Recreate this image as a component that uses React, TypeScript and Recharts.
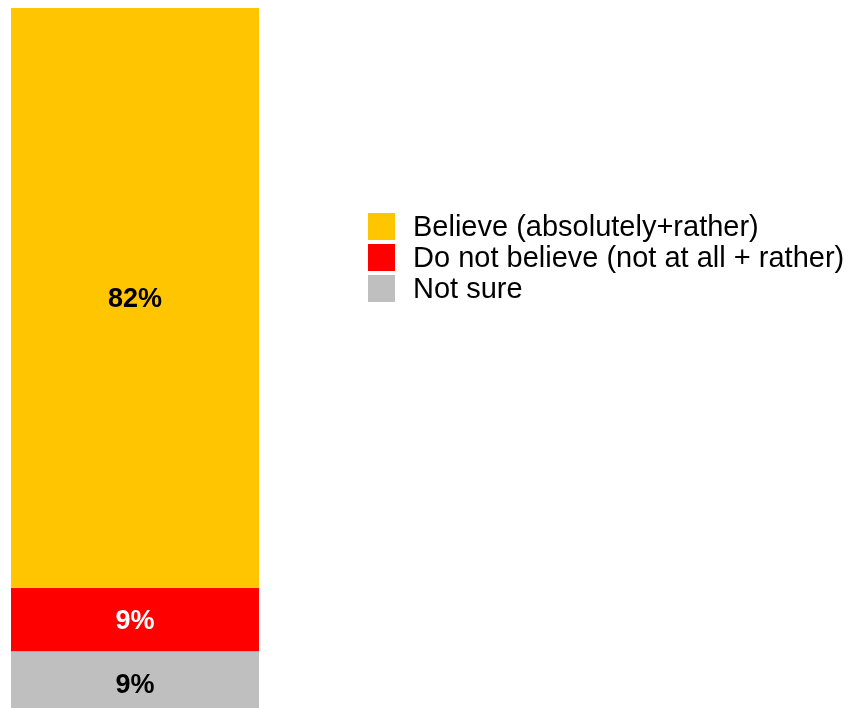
import { Bar, BarChart, LabelList, Legend, XAxis, YAxis } from 'recharts'

const categories = ['All respondents']
const believe = [82]
const notBelieve = [9]
const notSure = [9]

const seriesNames = ['Believe (absolutely+rather)', 'Do not believe (not at all + rather)', 'Not sure']
const seriesColors = ['#FFC600', '#FF0000', '#BFBFBF']

const data = categories.map((name, i) => ({
  name,
  believe: believe[i],
  notBelieve: notBelieve[i],
  notSure: notSure[i],
}))

const FONT = '"Liberation Sans", Arial, Helvetica, sans-serif'

const pct = (v: any) => `${v}%`

const LegendBox = () => (
  <div style={{ fontFamily: FONT }}>
    {seriesNames.map((label, i) => (
      <div
        key={label}
        style={{ display: 'flex', alignItems: 'center', height: 31, whiteSpace: 'nowrap' }}
      >
        <span
          style={{
            display: 'inline-block',
            width: 27,
            height: 27,
            background: seriesColors[i],
            marginRight: 18,
            flexShrink: 0,
          }}
        />
        <span style={{ fontSize: 29, color: '#000', lineHeight: '31px' }}>{label}</span>
      </div>
    ))}
  </div>
)

const App = () => {
  return (
    <div style={{ position: 'fixed', top: 8, left: 8, fontFamily: FONT }}>
      <BarChart
        width={846}
        height={707}
        data={data}
        margin={{ top: 0, right: 595, left: 3, bottom: 0 }}
        barCategoryGap={0}
      >
        <XAxis dataKey="name" hide />
        <YAxis hide domain={[0, 100]} />
        <Legend
          layout="horizontal"
          verticalAlign="middle"
          align="center"
          content={<LegendBox />}
          wrapperStyle={{ left: 360, top: 203, width: 486 }}
        />
        <Bar dataKey="notSure" stackId="a" fill={seriesColors[2]} isAnimationActive={false}>
          <LabelList
            dataKey="notSure"
            position="center"
            formatter={pct}
            fill="#000"
            style={{ fontSize: 27, fontWeight: 'bold', fontFamily: FONT }}
          />
        </Bar>
        <Bar dataKey="notBelieve" stackId="a" fill={seriesColors[1]} isAnimationActive={false}>
          <LabelList
            dataKey="notBelieve"
            position="center"
            formatter={pct}
            fill="#fff"
            style={{ fontSize: 27, fontWeight: 'bold', fontFamily: FONT }}
          />
        </Bar>
        <Bar dataKey="believe" stackId="a" fill={seriesColors[0]} isAnimationActive={false}>
          <LabelList
            dataKey="believe"
            position="center"
            formatter={pct}
            fill="#000"
            style={{ fontSize: 27, fontWeight: 'bold', fontFamily: FONT }}
          />
        </Bar>
      </BarChart>
    </div>
  )
}

export default App
